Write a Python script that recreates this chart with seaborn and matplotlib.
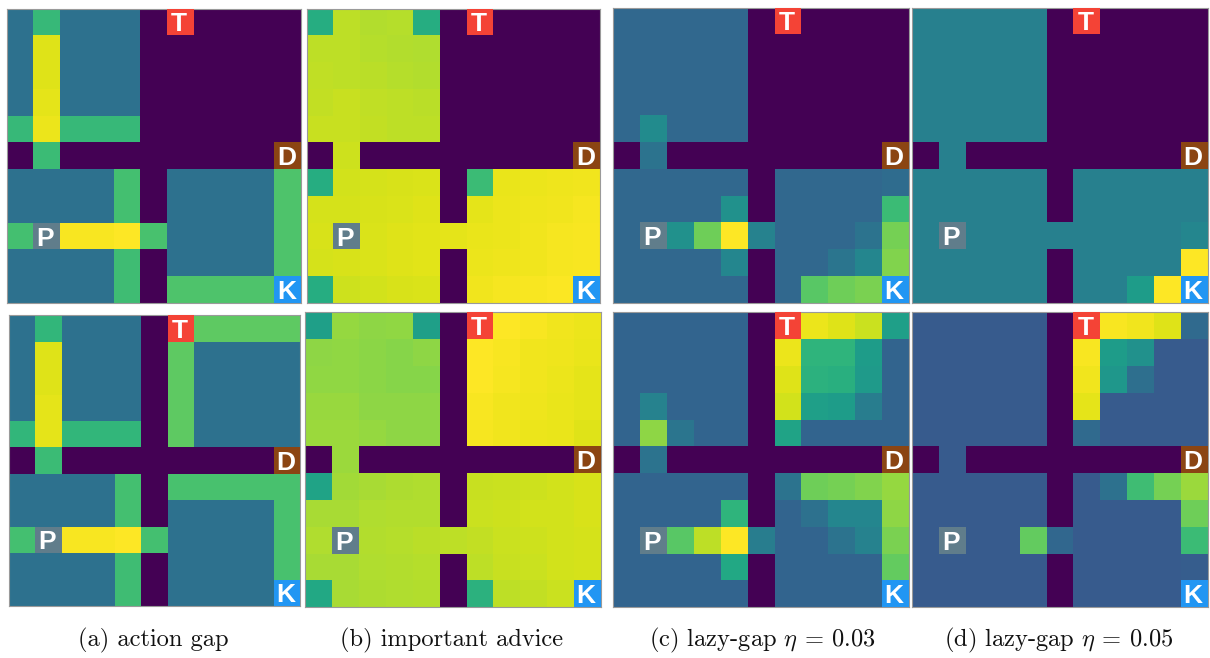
"""
Four-rooms gridworld heatmaps: two rows, four advice strategies.
"""

import numpy as np
import matplotlib
matplotlib.use("Agg")
import matplotlib.pyplot as plt
from matplotlib.patches import Rectangle
import seaborn as sns

# -----------------------------
# 1. Values (viridis fraction, walls are 0)
# -----------------------------
gap_top = [
    [.37, .67, .37, .37, .37, 0, 0, 0, 0, 0, 0],
    [.37, .95, .37, .37, .37, 0, 0, 0, 0, 0, 0],
    [.37, .95, .37, .37, .37, 0, 0, 0, 0, 0, 0],
    [.37, .96, .37, .37, .37, 0, 0, 0, 0, 0, 0],
    [.67, .97, .67, .67, .67, 0, 0, 0, 0, 0, 0],
    [0, .68, 0, 0, 0, 0, 0, 0, 0, 0, 0],
    [.37, .37, .37, .37, .70, 0, .37, .37, .37, .37, .72],
    [.37, .37, .37, .37, .70, 0, .37, .37, .37, .37, .72],
    [.70, .37, .99, .99, 1.0, .71, .37, .37, .37, .37, .72],
    [.37, .37, .37, .37, .69, 0, .37, .37, .37, .37, .72],
    [.37, .37, .37, .37, .69, 0, .72, .72, .72, .72, .72],
]
gap_bottom = [
    [.37, .66, .37, .37, .37, 0, 0, .75, .75, .75, .75],
    [.37, .95, .37, .37, .37, 0, .75, .37, .37, .37, .37],
    [.37, .95, .37, .37, .37, 0, .75, .37, .37, .37, .37],
    [.37, .96, .37, .37, .37, 0, .75, .37, .37, .37, .37],
    [.66, .96, .66, .66, .66, 0, .75, .37, .37, .37, .37],
    [0, .68, 0, 0, 0, 0, 0, 0, 0, 0, 0],
    [.37, .37, .37, .37, .70, 0, .71, .71, .71, .71, .71],
    [.37, .37, .37, .37, .70, 0, .37, .37, .37, .37, .71],
    [.70, .37, .99, .99, 1.0, .70, .37, .37, .37, .37, .71],
    [.37, .37, .37, .37, .69, 0, .37, .37, .37, .37, .71],
    [.37, .37, .37, .37, .69, 0, .37, .37, .37, .37, .71],
]
advice_top = [
    [.62, .90, .885, .89, .62, 0, 0, 0, 0, 0, 0],
    [.90, .90, .89, .885, .88, 0, 0, 0, 0, 0, 0],
    [.905, .90, .895, .89, .885, 0, 0, 0, 0, 0, 0],
    [.91, .915, .905, .90, .895, 0, 0, 0, 0, 0, 0],
    [.915, .915, .91, .90, .90, 0, 0, 0, 0, 0, 0],
    [0, .925, 0, 0, 0, 0, 0, 0, 0, 0, 0],
    [.62, .93, .935, .94, .945, 0, .68, .965, .97, .975, .98],
    [.935, .935, .94, .945, .95, 0, .96, .97, .975, .98, .985],
    [.94, .94, .945, .95, .955, .96, .965, .97, .98, .985, .99],
    [.935, .94, .945, .95, .955, 0, .97, .975, .98, .985, .99],
    [.62, .925, .93, .94, .945, 0, .98, .985, .99, .995, 1.0],
]
advice_bottom = [
    [.56, .84, .83, .835, .56, 0, 1.0, 1.0, .99, .98, .97],
    [.83, .835, .825, .82, .83, 0, 1.0, .99, .98, .975, .965],
    [.835, .835, .825, .82, .82, 0, 1.0, .985, .98, .97, .96],
    [.845, .845, .83, .83, .83, 0, .99, .98, .975, .965, .96],
    [.85, .85, .84, .83, .83, 0, .985, .98, .97, .965, .95],
    [0, .85, 0, 0, 0, 0, 0, 0, 0, 0, 0],
    [.58, .86, .87, .875, .88, 0, .915, .92, .925, .93, .94],
    [.87, .87, .88, .885, .885, 0, .92, .925, .93, .93, .94],
    [.88, .88, .885, .89, .895, .90, .91, .92, .925, .93, .935],
    [.87, .87, .88, .885, .89, 0, .90, .915, .92, .93, .935],
    [.60, .87, .875, .88, .885, 0, .64, .90, .91, .92, .92],
]
lazy03_top = [
    [.335, .335, .335, .335, .335, 0, 0, 0, 0, 0, 0],
    [.335, .335, .335, .335, .335, 0, 0, 0, 0, 0, 0],
    [.335, .335, .335, .335, .335, 0, 0, 0, 0, 0, 0],
    [.335, .335, .335, .335, .335, 0, 0, 0, 0, 0, 0],
    [.335, .48, .335, .335, .335, 0, 0, 0, 0, 0, 0],
    [0, .38, 0, 0, 0, 0, 0, 0, 0, 0, 0],
    [.335, .335, .335, .335, .335, 0, .335, .335, .335, .335, .35],
    [.335, .335, .335, .335, .50, 0, .335, .335, .335, .335, .68],
    [.335, .335, .50, .78, 1.0, .44, .335, .335, .335, .38, .79],
    [.335, .335, .335, .335, .46, 0, .335, .335, .39, .46, .81],
    [.335, .335, .335, .335, .335, 0, .335, .74, .78, .80, .80],
]
lazy03_bottom = [
    [.32, .32, .32, .32, .32, 0, 0, .97, .95, .92, .56],
    [.32, .32, .32, .32, .32, 0, .97, .65, .65, .55, .32],
    [.32, .32, .32, .32, .32, 0, .95, .64, .63, .54, .32],
    [.32, .44, .32, .32, .32, 0, .93, .56, .55, .42, .32],
    [.32, .83, .39, .32, .32, 0, .58, .32, .32, .32, .32],
    [0, .38, 0, 0, 0, 0, 0, 0, 0, 0, 0],
    [.32, .32, .32, .32, .32, 0, .38, .78, .79, .81, .84],
    [.32, .32, .32, .32, .65, 0, .32, .37, .46, .46, .83],
    [.32, .32, .74, .90, 1.0, .42, .32, .32, .38, .44, .80],
    [.32, .32, .32, .32, .60, 0, .32, .32, .32, .32, .76],
    [.32, .32, .32, .32, .32, 0, .32, .32, .32, .32, .32],
]
lazy05_top = [
    [.43, .43, .43, .43, .43, 0, 0, 0, 0, 0, 0],
    [.43, .43, .43, .43, .43, 0, 0, 0, 0, 0, 0],
    [.43, .43, .43, .43, .43, 0, 0, 0, 0, 0, 0],
    [.43, .43, .43, .43, .43, 0, 0, 0, 0, 0, 0],
    [.43, .43, .43, .43, .43, 0, 0, 0, 0, 0, 0],
    [0, .43, 0, 0, 0, 0, 0, 0, 0, 0, 0],
    [.43, .43, .43, .43, .43, 0, .43, .43, .43, .43, .43],
    [.43, .43, .43, .43, .43, 0, .43, .43, .43, .43, .43],
    [.43, .43, .43, .43, .43, .43, .43, .43, .43, .43, .46],
    [.43, .43, .43, .43, .43, 0, .43, .43, .43, .43, 1.0],
    [.43, .43, .43, .43, .43, 0, .43, .43, .55, 1.0, 1.0],
]
lazy05_bottom = [
    [.285, .285, .285, .285, .285, 0, 0, .99, .98, .95, .34],
    [.285, .285, .285, .285, .285, 0, .99, .55, .50, .285, .285],
    [.285, .285, .285, .285, .285, 0, .98, .53, .36, .285, .285],
    [.285, .285, .285, .285, .285, 0, .96, .285, .285, .285, .285],
    [.285, .285, .285, .285, .285, 0, .34, .285, .285, .285, .285],
    [0, .285, 0, 0, 0, 0, 0, 0, 0, 0, 0],
    [.285, .285, .285, .285, .285, 0, .285, .37, .69, .79, .85],
    [.285, .285, .285, .285, .285, 0, .285, .285, .285, .285, .78],
    [.285, .285, .285, .285, .76, .33, .285, .285, .285, .285, .68],
    [.285, .285, .285, .285, .285, 0, .285, .285, .285, .285, .29],
    [.285, .285, .285, .285, .285, 0, .285, .285, .285, .285, .285],
]

captions = [
    "(a) action gap",
    "(b) important advice",
    r"(c) lazy-gap $\eta$ = 0.03",
    r"(d) lazy-gap $\eta$ = 0.05",
]
marker_names = ["T", "D", "P", "K"]
marker_rows = [0, 5, 8, 10]
marker_cols = [6, 10, 1, 10]

# -----------------------------
# 2. Layout in pixels: left, right, top, bottom of each panel
# -----------------------------
W, H = 1210, 658
marker_colors = ["#f44336", "#8b4513", "#607d8b", "#2196f3"]
panels = [
    (gap_top, 6.5, 301, 8.5, 303),
    (advice_top, 306.5, 600, 8.5, 303),
    (lazy03_top, 613.3, 909, 7.5, 303),
    (lazy05_top, 912.3, 1207.7, 7.5, 303),
    (gap_bottom, 8.7, 300, 315.3, 606),
    (advice_bottom, 305.3, 601, 312.3, 607.3),
    (lazy03_bottom, 613.3, 909, 312.3, 607.3),
    (lazy05_bottom, 912.3, 1207.7, 312.3, 607.3),
]
caption_x = [153, 452, 762, 1059]

sns.set_theme(style="white")
plt.rcParams["font.family"] = ["cmr10", "DejaVu Serif"]
plt.rcParams["mathtext.fontset"] = "cm"
plt.rcParams["axes.formatter.use_mathtext"] = True

fig = plt.figure(figsize=(W / 100, H / 100), dpi=100)

# -----------------------------
# 3. Draw heatmaps and markers
# -----------------------------
for values, left, right, top, bottom in panels:
    ax = fig.add_axes([left / W, 1 - bottom / H, (right - left) / W, (bottom - top) / H])
    sns.heatmap(np.array(values), ax=ax, cmap="viridis", vmin=0, vmax=1, cbar=False,
                xticklabels=False, yticklabels=False, linewidths=0, square=False)
    for spine in ax.spines.values():
        spine.set_visible(True)
        spine.set_color("#9a9a9a")
        spine.set_linewidth(0.8)
    for name, row, col, color in zip(marker_names, marker_rows, marker_cols, marker_colors):
        ax.add_patch(Rectangle((col, row), 1, 1, facecolor=color, edgecolor="none", zorder=3))
        ax.text(col + 0.45, row + 0.5, name, color="white", fontsize=19, fontweight="bold",
                family="Liberation Sans", ha="center", va="center_baseline", zorder=4)

for text, x in zip(captions, caption_x):
    fig.text(x / W, 1 - 640 / H, text, fontsize=17.6, color="#111111", ha="center", va="center")

plt.savefig("out.png", dpi=100)
